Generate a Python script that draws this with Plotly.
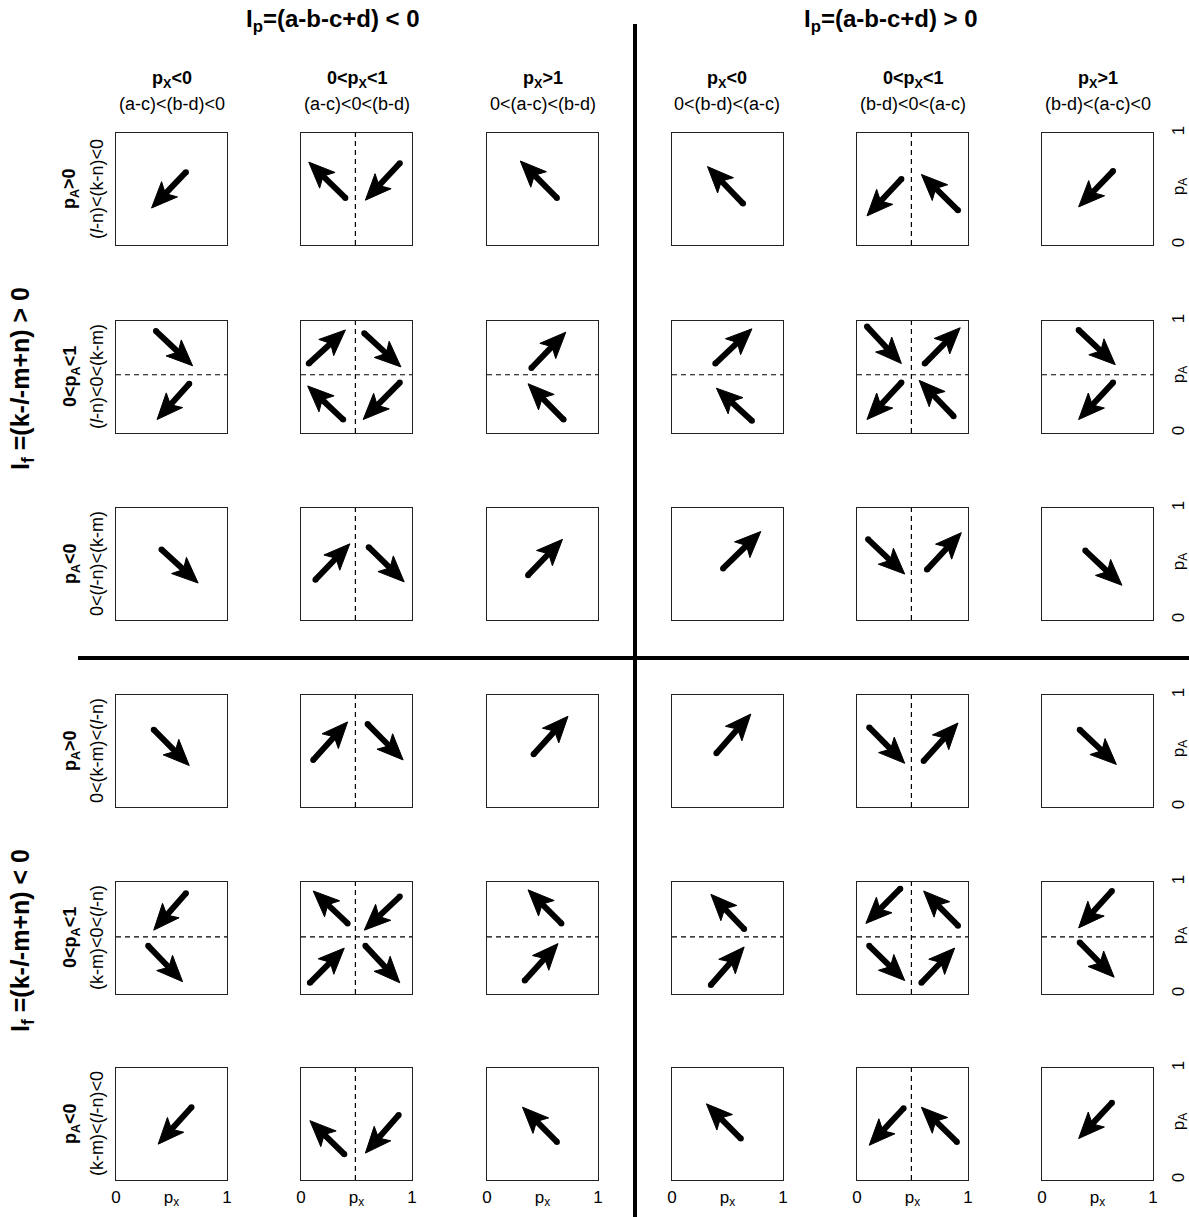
import math
import plotly.graph_objects as go

# the page body margin is removed (post_script below), so the figure fills the window
PAGE_OFF = 0
W, H = 1189, 1217

# ---------------- data ----------------
ip_titles = ["I<sub>p</sub>=(a-b-c+d) &lt; 0", "I<sub>p</sub>=(a-b-c+d) &gt; 0"]
if_titles = ["I<sub>f</sub> =(k-<i>l</i>-m+n) &gt; 0", "I<sub>f</sub> =(k-<i>l</i>-m+n) &lt; 0"]
col_heads = ["p<sub>X</sub>&lt;0", "0&lt;p<sub>X</sub>&lt;1", "p<sub>X</sub>&gt;1",
             "p<sub>X</sub>&lt;0", "0&lt;p<sub>X</sub>&lt;1", "p<sub>X</sub>&gt;1"]
col_subs = ["(a-c)&lt;(b-d)&lt;0", "(a-c)&lt;0&lt;(b-d)", "0&lt;(a-c)&lt;(b-d)",
            "0&lt;(b-d)&lt;(a-c)", "(b-d)&lt;0&lt;(a-c)", "(b-d)&lt;(a-c)&lt;0"]
row_heads = ["p<sub>A</sub>&gt;0", "0&lt;p<sub>A</sub>&lt;1", "p<sub>A</sub>&lt;0",
             "p<sub>A</sub>&gt;0", "0&lt;p<sub>A</sub>&lt;1", "p<sub>A</sub>&lt;0"]
row_subs = ["(<i>l</i>-n)&lt;(k-n)&lt;0", "(<i>l</i>-n)&lt;0&lt;(k-m)", "0&lt;(<i>l</i>-n)&lt;(k-m)",
            "0&lt;(k-m)&lt;(<i>l</i>-n)", "(k-m)&lt;0&lt;(<i>l</i>-n)", "(k-m)&lt;(<i>l</i>-n)&lt;0"]
tick_vals = [0, 0.5, 1]
x_ticktext = ["0", "p<sub>x</sub>", "1"]
y_ticktext = ["0", "p<sub>A</sub>", "1"]

# equilibrium lines (None = no line)
px_star = [None, 0.49, None, None, 0.49, None]
pa_star = [None, 0.52, None, None, 0.51, None]

# arrows per panel: (tail_x, tail_y, tip_x, tip_y)
arrows_row1 = [
    [(0.63, 0.65, 0.32, 0.33)],
    [(0.40, 0.42, 0.07, 0.74), (0.89, 0.73, 0.58, 0.40)],
    [(0.63, 0.42, 0.30, 0.75)],
    [(0.64, 0.37, 0.32, 0.70)],
    [(0.40, 0.59, 0.09, 0.26), (0.91, 0.31, 0.58, 0.63)],
    [(0.64, 0.66, 0.33, 0.34)],
]
arrows_row2 = [
    [(0.36, 0.91, 0.69, 0.60), (0.66, 0.44, 0.37, 0.12)],
    [(0.07, 0.62, 0.40, 0.92), (0.57, 0.89, 0.90, 0.59), (0.38, 0.12, 0.06, 0.42), (0.89, 0.45, 0.56, 0.12)],
    [(0.40, 0.58, 0.71, 0.90), (0.69, 0.12, 0.37, 0.44)],
    [(0.39, 0.62, 0.72, 0.93), (0.72, 0.11, 0.40, 0.40)],
    [(0.09, 0.95, 0.40, 0.62), (0.61, 0.62, 0.93, 0.94), (0.40, 0.45, 0.09, 0.12), (0.87, 0.15, 0.56, 0.47)],
    [(0.33, 0.92, 0.66, 0.61), (0.64, 0.45, 0.33, 0.12)],
]
arrows_row3 = [
    [(0.41, 0.63, 0.74, 0.33)],
    [(0.13, 0.36, 0.44, 0.68), (0.61, 0.65, 0.93, 0.34)],
    [(0.37, 0.40, 0.68, 0.72)],
    [(0.46, 0.46, 0.80, 0.79)],
    [(0.10, 0.72, 0.43, 0.41), (0.63, 0.45, 0.94, 0.78)],
    [(0.39, 0.62, 0.72, 0.31)],
]
arrows_row4 = [
    [(0.34, 0.69, 0.66, 0.37)],
    [(0.11, 0.42, 0.42, 0.76), (0.60, 0.74, 0.92, 0.42)],
    [(0.42, 0.47, 0.73, 0.81)],
    [(0.40, 0.48, 0.71, 0.83)],
    [(0.11, 0.71, 0.43, 0.39), (0.60, 0.41, 0.91, 0.75)],
    [(0.34, 0.69, 0.67, 0.38)],
]
arrows_row5 = [
    [(0.63, 0.90, 0.34, 0.57), (0.29, 0.43, 0.60, 0.11)],
    [(0.42, 0.63, 0.11, 0.92), (0.89, 0.87, 0.57, 0.57), (0.08, 0.10, 0.39, 0.41), (0.58, 0.43, 0.89, 0.10)],
    [(0.67, 0.63, 0.37, 0.93), (0.34, 0.12, 0.64, 0.45)],
    [(0.65, 0.58, 0.35, 0.89), (0.35, 0.08, 0.65, 0.42)],
    [(0.39, 0.94, 0.08, 0.63), (0.91, 0.61, 0.60, 0.92), (0.11, 0.43, 0.43, 0.12), (0.58, 0.10, 0.88, 0.41)],
    [(0.63, 0.92, 0.33, 0.59), (0.34, 0.46, 0.65, 0.15)],
]
arrows_row6 = [
    [(0.68, 0.65, 0.38, 0.32)],
    [(0.39, 0.23, 0.08, 0.53), (0.88, 0.58, 0.58, 0.24)],
    [(0.63, 0.34, 0.32, 0.65)],
    [(0.62, 0.37, 0.31, 0.68)],
    [(0.42, 0.64, 0.11, 0.31), (0.90, 0.34, 0.58, 0.65)],
    [(0.63, 0.69, 0.33, 0.37)],
]
arrows = [arrows_row1, arrows_row2, arrows_row3, arrows_row4, arrows_row5, arrows_row6]

# ---------------- layout geometry (page pixels) ----------------
COL_X0 = [116, 301, 487, 672, 857, 1042]
ROW_Y0 = [133, 321, 508, 695, 882, 1068]
BW, BH = 111, 112
HEAD_L, HEAD_W, SHAFT_W = 24.0, 22.0, 6.0
FONT = "Arial, Liberation Sans, Helvetica, sans-serif"


def px(x):
    return (x - PAGE_OFF) / W


def py(y):
    return 1 - (y - PAGE_OFF) / H


def arrow_geom(tx, ty, hx, hy):
    X0, Y0, X1, Y1 = tx * BW, ty * BH, hx * BW, hy * BH
    L = math.hypot(X1 - X0, Y1 - Y0)
    ux, uy = (X1 - X0) / L, (Y1 - Y0) / L
    nx, ny = -uy, ux
    bx, by = X1 - ux * HEAD_L, Y1 - uy * HEAD_L
    c1 = (bx + nx * HEAD_W / 2 - ux * 2, by + ny * HEAD_W / 2 - uy * 2)
    c2 = (bx - nx * HEAD_W / 2 - ux * 2, by - ny * HEAD_W / 2 - uy * 2)
    notch = (bx + ux * 4, by + uy * 4)
    head = [(X1, Y1), c1, notch, c2, (X1, Y1)]
    shaft = [(X0, Y0), notch]
    conv = lambda p: (p[0] / BW, p[1] / BH)
    return [conv(p) for p in shaft], [conv(p) for p in head]


fig = go.Figure()
layout_axes = {}

for r in range(6):
    for c in range(6):
        k = r * 6 + c + 1
        xr = "x" if k == 1 else f"x{k}"
        yr = "y" if k == 1 else f"y{k}"
        if px_star[c] is not None:
            fig.add_trace(go.Scatter(x=[px_star[c], px_star[c]], y=[0, 1], mode="lines",
                                     line=dict(color="black", width=1.2, dash="5px,4px"),
                                     xaxis=xr, yaxis=yr, hoverinfo="skip", showlegend=False))
        if pa_star[r] is not None:
            fig.add_trace(go.Scatter(x=[0, 1], y=[pa_star[r], pa_star[r]], mode="lines",
                                     line=dict(color="black", width=1.2, dash="5px,4px"),
                                     xaxis=xr, yaxis=yr, hoverinfo="skip", showlegend=False))
        sx, sy, hxs, hys, tx_, ty_ = [], [], [], [], [], []
        for (a, b, cc, d) in arrows[r][c]:
            shaft, head = arrow_geom(a, b, cc, d)
            sx += [p[0] for p in shaft] + [None]
            sy += [p[1] for p in shaft] + [None]
            hxs += [p[0] for p in head] + [None]
            hys += [p[1] for p in head] + [None]
            tx_.append(a)
            ty_.append(b)
        fig.add_trace(go.Scatter(x=sx, y=sy, mode="lines", line=dict(color="black", width=SHAFT_W),
                                 xaxis=xr, yaxis=yr, hoverinfo="skip", showlegend=False))
        fig.add_trace(go.Scatter(x=tx_, y=ty_, mode="markers",
                                 marker=dict(color="black", size=SHAFT_W, line=dict(width=0)),
                                 xaxis=xr, yaxis=yr, hoverinfo="skip", showlegend=False))
        fig.add_trace(go.Scatter(x=hxs, y=hys, mode="lines", fill="toself", fillcolor="black",
                                 line=dict(color="black", width=1),
                                 xaxis=xr, yaxis=yr, hoverinfo="skip", showlegend=False))

        x0 = COL_X0[c]
        y0 = ROW_Y0[r]
        xa = dict(domain=[px(x0), px(x0 + BW)], range=[0, 1], anchor=yr, automargin=False,
                  showgrid=False, zeroline=False, showline=True, mirror=True,
                  linecolor="#222", linewidth=1.3, ticks="", fixedrange=True,
                  showticklabels=False)
        ya = dict(domain=[py(y0 + BH), py(y0)], range=[0, 1], anchor=xr, automargin=False,
                  showgrid=False, zeroline=False, showline=True, mirror=True,
                  linecolor="#222", linewidth=1.3, ticks="", fixedrange=True,
                  showticklabels=False)
        if r == 5:
            xa.update(showticklabels=True, tickvals=tick_vals, ticktext=x_ticktext,
                      tickfont=dict(family=FONT, size=17, color="black"), ticklabelstandoff=1)
        if c == 5:
            ya.update(side="right", showticklabels=True, tickvals=tick_vals, ticktext=y_ticktext,
                      tickangle=-90, tickfont=dict(family=FONT, size=17, color="black"),
                      ticklabelstandoff=9)
        layout_axes["xaxis" if k == 1 else f"xaxis{k}"] = xa
        layout_axes["yaxis" if k == 1 else f"yaxis{k}"] = ya

annotations = []


def note(x, y, text, size, angle=0):
    annotations.append(dict(x=px(x), y=py(y), xref="paper", yref="paper", text=text,
                            showarrow=False, textangle=angle, xanchor="center", yanchor="middle",
                            font=dict(family=FONT, size=size, color="black")))


for i, cx in enumerate([333, 891]):
    note(cx, 21, f"<b>{ip_titles[i]}</b>", 24)
for i, cy in enumerate([379, 941]):
    note(22, cy, f"<b>{if_titles[i]}</b>", 25, -90)
for c in range(6):
    cx = COL_X0[c] + BW / 2
    note(cx, 79, f"<b>{col_heads[c]}</b>", 18)
    note(cx, 104, col_subs[c], 18)
for r in range(6):
    cy = ROW_Y0[r] + BH / 2
    note(71, cy, f"<b>{row_heads[r]}</b>", 18, -90)
    note(97, cy, row_subs[r], 18, -90)

shapes = [
    dict(type="line", xref="paper", yref="paper", x0=px(635), x1=px(635), y0=0, y1=py(24),
         line=dict(color="black", width=4)),
    dict(type="line", xref="paper", yref="paper", x0=px(78), x1=1, y0=py(658), y1=py(658),
         line=dict(color="black", width=4)),
]

fig.update_layout(width=W, height=H, margin=dict(l=0, r=0, t=0, b=0, autoexpand=False),
                  paper_bgcolor="white", plot_bgcolor="white", showlegend=False,
                  annotations=annotations, shapes=shapes, **layout_axes)

fig.write_html("out.html", config={"displayModeBar": False},
               post_script="document.body.style.margin='0';document.body.style.overflow='hidden';")
